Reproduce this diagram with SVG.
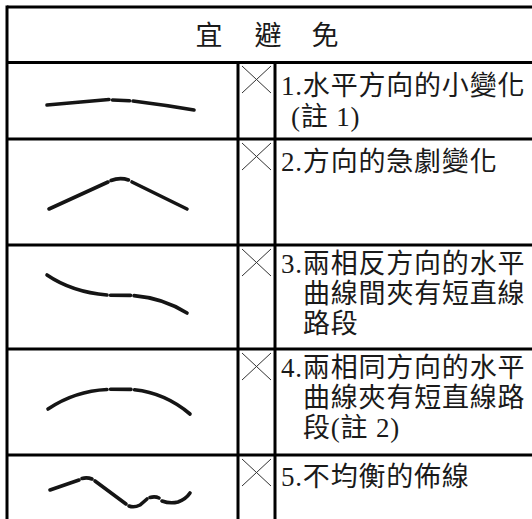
<svg xmlns="http://www.w3.org/2000/svg" width="532" height="519" viewBox="0 0 532 519">
<style>
.grid{stroke:#000;stroke-width:3;fill:none}
.x{stroke:#333;stroke-width:1;fill:none}
.c{stroke:#151515;stroke-width:3.6;fill:none;stroke-linecap:round}
.t{font-family:"Liberation Serif","Noto Sans CJK TC",serif;font-size:27px;fill:#1a1a1a;letter-spacing:0.8px}
.h{font-family:"Liberation Serif","Noto Sans CJK TC",serif;font-size:27px;fill:#1a1a1a;text-anchor:middle}
</style>
<defs>
<path id="xm" d="M0,0 L29,27 M29,0 L0,27" class="x"/>
</defs>
<rect width="532" height="519" fill="#fff"/>
<g id="table" class="grid">
<path d="M7,7 H533 M7,62.5 H533 M7,139 H533 M7,245 H533 M7,349 H533 M7,455 H533"/>
<path d="M7,5.5 V519 M238,62.5 V519 M275,62.5 V519"/>
</g>
<g id="header">
<text class="h" y="45"><tspan x="209">宜</tspan><tspan x="268">避</tspan><tspan x="325">免</tspan></text>
</g>
<g id="row1">
<path class="c" d="M47,105 Q80,102 109,99.5"/>
<path class="c" d="M112.5,100 L129.5,100.8"/>
<path class="c" d="M133,101 Q165,105 194,110"/>
<use href="#xm" x="242" y="66"/>
<text class="t" x="281" y="95">1.水平方向的小變化</text>
<text class="t" x="291" y="126">(註 1)</text>
</g>
<g id="row2">
<path class="c" d="M49,209 L108,182"/>
<path class="c" d="M111,180.5 Q120,177 128.5,180"/>
<path class="c" d="M132,182 L187,209"/>
<use href="#xm" x="242" y="143"/>
<text class="t" x="281" y="171">2.方向的急劇變化</text>
</g>
<g id="row3">
<path class="c" d="M47,275 Q72,292 107,295"/>
<path class="c" d="M110.5,295.2 L130.5,295.4"/>
<path class="c" d="M134,295.6 Q163,298 187,313"/>
<use href="#xm" x="242" y="249"/>
<text class="t" x="281" y="273">3.兩相反方向的水平</text>
<text class="t" x="303" y="303">曲線間夾有短直線</text>
<text class="t" x="303" y="333">路段</text>
</g>
<g id="row4">
<path class="c" d="M48,409 Q75,391 107,389.5"/>
<path class="c" d="M110.5,389.2 L131,389.4"/>
<path class="c" d="M134.5,389.8 Q165,393 190,414"/>
<use href="#xm" x="242" y="353"/>
<text class="t" x="281" y="377">4.兩相同方向的水平</text>
<text class="t" x="303" y="407">曲線夾有短直線路</text>
<text class="t" x="303" y="437">段(註 2)</text>
</g>
<g id="row5">
<path class="c" d="M50,490 L79,480"/>
<path class="c" d="M82,478.5 Q87,477 92,479"/>
<path class="c" d="M95,481 L126,504"/>
<path class="c" d="M129,506 Q134,508 140,505 L147,499"/>
<path class="c" d="M150,497.5 Q155,496 159,498"/>
<path class="c" d="M162,501 Q170,504 178,502 Q186,499 190,493"/>
<use href="#xm" x="242" y="459"/>
<text class="t" x="281" y="486">5.不均衡的佈線</text>
</g>
</svg>
